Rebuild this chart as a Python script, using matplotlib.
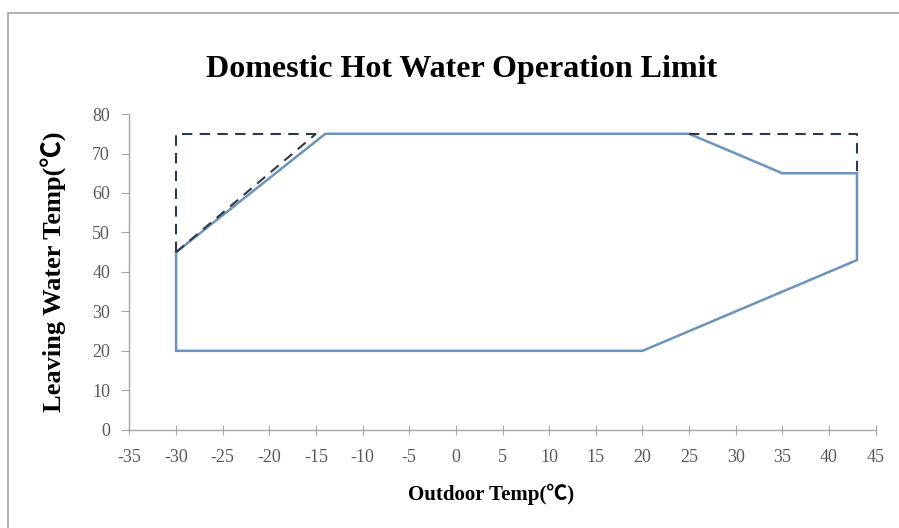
import matplotlib.pyplot as plt
from matplotlib.patches import Rectangle

plt.rcParams['axes.unicode_minus'] = False

# operating envelope (outdoor temp, leaving water temp)
limit_x = [-30, -14, 25, 35, 43, 43, 20, -30, -30]
limit_y = [45, 75, 75, 65, 65, 43, 20, 20, 45]

# extended limits, dashed
ext_left_x = [-30, -30, -15]
ext_left_y = [45, 75, 75]
ext_diag_x = [-30, -15]
ext_diag_y = [45, 75]
ext_right_x = [25, 43, 43]
ext_right_y = [75, 75, 65]

x_ticks = list(range(-35, 50, 5))
y_ticks = list(range(0, 90, 10))

serif = ['Liberation Serif', 'Noto Sans CJK SC', 'DejaVu Serif']

fig = plt.figure(figsize=(8.99, 5.28), dpi=100)
ax = fig.add_axes([0.144, 0.186, 0.830, 0.598])

# outer chart frame
fig.patches.append(Rectangle((8 / 899, -0.1), 1.2, 1 - 13 / 528 + 0.1,
                             transform=fig.transFigure, fill=False,
                             edgecolor='#b4b4b4', linewidth=1.5))

ax.plot(limit_x, limit_y, color='#6a93bd', linewidth=1.8, solid_joinstyle='miter')
dash = dict(color='#2e3a48', linewidth=1.5, linestyle=(0, (5, 3.5)))
ax.plot(ext_left_x, ext_left_y, **dash)
ax.plot(ext_diag_x, ext_diag_y, **dash)
ax.plot(ext_right_x, ext_right_y, **dash)

ax.set_xlim(-35, 45)
ax.set_ylim(0, 80)
ax.set_xticks(x_ticks)
ax.set_yticks(y_ticks)
for s in ['top', 'right']:
    ax.spines[s].set_visible(False)
for s in ['left', 'bottom']:
    ax.spines[s].set_color('#a6a6a6')
    ax.spines[s].set_linewidth(1.0)
ax.tick_params(axis='x', direction='inout', length=7, color='#a6a6a6',
               labelsize=13, labelcolor='#595959', pad=10)
ax.tick_params(axis='y', direction='out', length=6, color='#a6a6a6',
               labelsize=13, labelcolor='#595959', pad=8)
for lab in ax.get_xticklabels() + ax.get_yticklabels():
    lab.set_family(serif)

fig.text(462 / 899, 1 - 70 / 528, 'Domestic Hot Water Operation Limit',
         family=serif, fontsize=23, fontweight='bold', ha='center', va='center')
ax.set_xlabel('Outdoor Temp(℃)', family=serif, fontsize=15, fontweight='bold')
ax.xaxis.set_label_coords(0.484, -0.172)
ax.set_ylabel('Leaving Water Temp(℃)', family=serif, fontsize=19, fontweight='bold')
ax.yaxis.set_label_coords(-0.084, 0.5)

fig.savefig('out.png', dpi=100)
